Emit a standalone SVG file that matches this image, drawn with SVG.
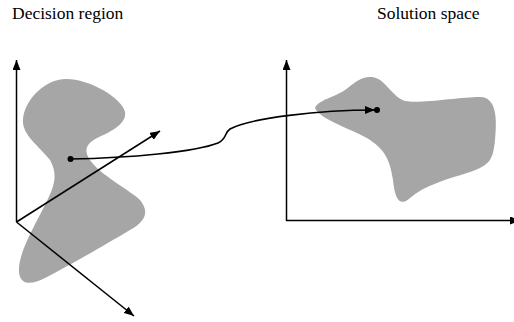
<svg xmlns="http://www.w3.org/2000/svg" width="514" height="322" viewBox="0 0 514 322">
  <style>
    .title { font-family: "Liberation Serif", "Times New Roman", serif; font-size: 17.5px; fill: #000; }
    .region { fill: #a6a6a6; stroke: none; }
    .axis { fill: none; stroke: #000; stroke-width: 1.5; }
    .map { fill: none; stroke: #000; stroke-width: 1.6; }
  </style>
  <defs>
    <marker id="arrow" markerUnits="userSpaceOnUse" markerWidth="10" markerHeight="8" refX="10" refY="4" orient="auto">
      <path d="M0,0 L10,4 L0,8 z" fill="#000"/>
    </marker>
  </defs>
  <rect width="514" height="322" fill="#fff"/>

  <g id="label-decision"><text class="title" x="12" y="19">Decision region</text></g>
  <g id="label-solution"><text class="title" x="377" y="19">Solution space</text></g>

  <g id="decision-region">
    <path class="region" d="M66,79 C90,79 122,98 125,112 C127,124 110,132 97,138 C85,144 84,152 90,160 C100,175 130,190 140,200 C150,212 145,222 130,230 C105,245 70,265 45,278 C30,286 18,285 19,268 C20,250 35,225 45,205 C55,185 58,175 50,160 C38,145 22,135 23,120 C24,100 45,79 66,79 Z"/>
  </g>

  <g id="solution-region">
    <path class="region" d="M315,108 C318,100 335,97 345,90 C355,82 362,76 372,77 C385,78 392,97 405,101 C420,104 460,97 480,97 C497,97 497,120 495,140 C493,160 490,165 470,172 C445,180 425,185 410,198 C400,207 395,200 393,180 C390,160 385,150 370,140 C355,130 320,120 315,108 Z"/>
  </g>

  <g id="decision-axes">
    <line class="axis" x1="16.5" y1="222" x2="16.5" y2="60" marker-end="url(#arrow)"/>
    <line class="axis" x1="16.5" y1="222" x2="160" y2="131" marker-end="url(#arrow)"/>
    <line class="axis" x1="16.5" y1="222" x2="134" y2="316" marker-end="url(#arrow)"/>
  </g>

  <g id="solution-axes">
    <line class="axis" x1="286.5" y1="221" x2="286.5" y2="60" marker-end="url(#arrow)"/>
    <line class="axis" x1="286" y1="220.5" x2="520" y2="220.5" marker-end="url(#arrow)"/>
  </g>

  <g id="connectors">
    <path class="map" d="M70,159 C130,158 195,152 218,143 C227,139 224,133 230,129 C250,118 320,110 375,110" marker-end="url(#arrow)"/>
    <circle cx="70.5" cy="159" r="3" fill="#000"/>
    <circle cx="377" cy="110" r="3" fill="#000"/>
  </g>
</svg>
